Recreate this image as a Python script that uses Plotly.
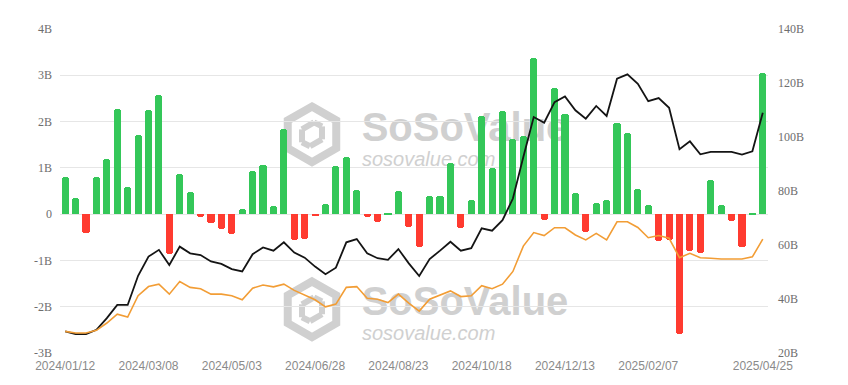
import math
import pandas as pd
import plotly.graph_objects as go

# ---- data ----
dates = [d.strftime("%Y/%m/%d") for d in pd.date_range("2024-01-12", periods=68, freq="7D")]

net_inflow_b = [0.81, 0.34, -0.40, 0.81, 1.19, 2.27, 0.58, 1.72, 2.24, 2.57,
                -0.87, 0.86, 0.48, -0.07, -0.19, -0.32, -0.42, 0.12, 0.94, 1.06,
                0.17, 1.83, -0.56, -0.53, -0.03, 0.23, 1.05, 1.24, 0.53, -0.07,
                -0.16, 0.03, 0.50, -0.27, -0.70, 0.40, 0.40, 1.11, -0.29, 0.30,
                2.13, 0.99, 2.22, 1.63, 1.68, 3.38, -0.12, 2.73, 2.17, 0.45,
                -0.38, 0.24, 0.30, 1.96, 1.76, 0.55, 0.19, -0.58, -0.56, -2.60,
                -0.79, -0.83, 0.73, 0.19, -0.15, -0.70, 0.01, 3.06]

total_assets_b = [28.0, 27.0, 27.0, 28.6, 32.9, 37.8, 37.8, 48.6, 55.7, 58.2,
                  52.6, 59.4, 56.9, 56.3, 53.9, 53.0, 51.1, 50.2, 56.6, 59.1,
                  57.9, 61.0, 57.2, 55.3, 52.0, 49.2, 51.6, 61.0, 62.2, 56.9,
                  55.1, 54.5, 58.5, 53.2, 48.5, 54.8, 57.9, 61.2, 57.9, 58.8,
                  66.2, 65.3, 69.2, 77.2, 92.6, 107.4, 105.3, 112.9, 115.0, 109.9,
                  106.8, 111.5, 107.8, 121.6, 123.2, 119.7, 113.3, 114.4, 110.8, 95.5,
                  98.4, 93.6, 94.5, 94.5, 94.5, 93.5, 94.7, 109.0]

cum_inflow_b = [28.0, 27.4, 27.4, 28.4, 31.1, 34.4, 33.3, 41.2, 44.6, 45.5,
                41.8, 46.5, 44.3, 43.8, 41.8, 41.8, 41.2, 39.7, 44.0, 45.2,
                44.5, 45.5, 43.2, 41.5, 39.7, 37.1, 38.1, 44.3, 44.6, 40.3,
                39.9, 38.7, 41.8, 38.5, 35.5, 39.9, 41.5, 43.0, 40.9, 41.2,
                44.9, 43.8, 45.5, 50.2, 59.6, 64.6, 63.5, 66.4, 66.4, 63.7,
                61.9, 64.3, 61.9, 68.6, 68.6, 66.5, 62.7, 63.5, 62.5, 55.3,
                56.9, 55.3, 55.1, 54.8, 54.8, 54.8, 55.6, 62.2]

left_ticks = [-3, -2, -1, 0, 1, 2, 3, 4]
left_ticktext = ["-3B", "-2B", "-1B", "0", "1B", "2B", "3B", "4B"]
right_ticks = [20, 40, 60, 80, 100, 120, 140]
right_ticktext = ["20B", "40B", "60B", "80B", "100B", "120B", "140B"]
x_tick_idx = [0, 8, 16, 24, 32, 40, 48, 56, 67]

GREEN = "#34c759"
RED = "#ff3b30"
BLACK = "#141414"
ORANGE = "#f29d35"
WM = "#d0d0d0"
SERIF = "Times New Roman, Liberation Serif, serif"
SANS = "Liberation Sans, Arial, sans-serif"

fig = go.Figure()
fig.add_trace(go.Bar(
    x=dates, y=net_inflow_b,
    marker=dict(color=[GREEN if v >= 0 else RED for v in net_inflow_b], line=dict(width=0)),
    width=0.68, yaxis="y", name="Net inflow",
))
fig.add_trace(go.Scatter(
    x=dates, y=total_assets_b, mode="lines", line=dict(color=BLACK, width=1.8),
    yaxis="y2", name="Total net assets",
))
fig.add_trace(go.Scatter(
    x=dates, y=cum_inflow_b, mode="lines", line=dict(color=ORANGE, width=1.6),
    yaxis="y2", name="Cumulative",
))

# ---- watermark (below traces) ----
L, R, T, B = 60, 768, 29, 355
def px(xp):
    return (xp - L) / (R - L)
def py(yp):
    return (B - yp) / (B - T)

shapes = []
def hexagon(cx, cy, r):
    pts = []
    for k in range(6):
        a = math.radians(90 - 60 * k)
        pts.append((cx + r * math.cos(a), cy - r * math.sin(a)))
    return pts

for (cx, cy, ty) in [(312, 135, 124), (312, 311, 299)]:
    pts = hexagon(cx, cy, 28)
    path = "M " + " L ".join(f"{px(x):.5f},{py(y):.5f}" for x, y in pts) + " Z"
    shapes.append(dict(type="path", path=path, xref="paper", yref="paper", layer="below",
                       line=dict(color=WM, width=8), fillcolor="rgba(0,0,0,0)"))
    for a, b in [((cx - 10, cy - 5), (cx + 2, cy - 12)), ((cx - 10, cy - 5), (cx - 10, cy + 8)),
                 ((cx + 10, cy + 5), (cx - 2, cy + 12)), ((cx + 10, cy + 5), (cx + 10, cy - 8)),
                 ((cx - 10, cy + 8), (cx - 2, cy + 12)), ((cx + 10, cy - 8), (cx + 2, cy - 12))]:
        shapes.append(dict(type="line", xref="paper", yref="paper", layer="below",
                           x0=px(a[0]), y0=py(a[1]), x1=px(b[0]), y1=py(b[1]),
                           line=dict(color=WM, width=6)))
    shapes.append(dict(type="rect", xref="paper", yref="paper", layer="below",
                       x0=px(355), x1=px(575), y0=py(ty + 18), y1=py(ty - 18),
                       line=dict(width=0), fillcolor="rgba(0,0,0,0)",
                       label=dict(text="<b>SoSoValue</b>", textposition="middle center",
                                  font=dict(family=SANS, size=40, color=WM))))
    shapes.append(dict(type="rect", xref="paper", yref="paper", layer="below",
                       x0=px(356), x1=px(500), y0=py(ty + 44), y1=py(ty + 24),
                       line=dict(width=0), fillcolor="rgba(0,0,0,0)",
                       label=dict(text="<i>sosovalue.com</i>", textposition="middle left",
                                  font=dict(family=SANS, size=20, color=WM))))

fig.update_layout(
    width=848, height=385,
    margin=dict(l=L, r=848 - R, t=T, b=385 - B),
    paper_bgcolor="white", plot_bgcolor="white",
    showlegend=False, bargap=0,
    shapes=shapes,
    xaxis=dict(type="category", range=[-0.5, 67.5],
               tickvals=[dates[i] for i in x_tick_idx],
               ticktext=[dates[i] for i in x_tick_idx],
               showgrid=False, showline=False, zeroline=False, ticks="",
               tickfont=dict(family=SANS, size=12, color="#8a8a8a"),
               ticklabelstandoff=4),
    yaxis=dict(range=[-3, 4], tickvals=left_ticks, ticktext=left_ticktext,
               showgrid=True, gridcolor="#e6e6e6", gridwidth=1, zeroline=False,
               showline=False, ticks="",
               tickfont=dict(family=SERIF, size=12, color="#6e6e6e"),
               ticklabelstandoff=7),
    yaxis2=dict(range=[20, 140], tickvals=right_ticks, ticktext=right_ticktext,
                overlaying="y", side="right", showgrid=False, zeroline=False,
                showline=False, ticks="",
                tickfont=dict(family=SERIF, size=12, color="#6e6e6e"),
                ticklabelstandoff=9),
    barcornerradius=3,
)

fig.write_html("out.html", config={"displayModeBar": False},
               post_script="document.body.style.margin='0';")
